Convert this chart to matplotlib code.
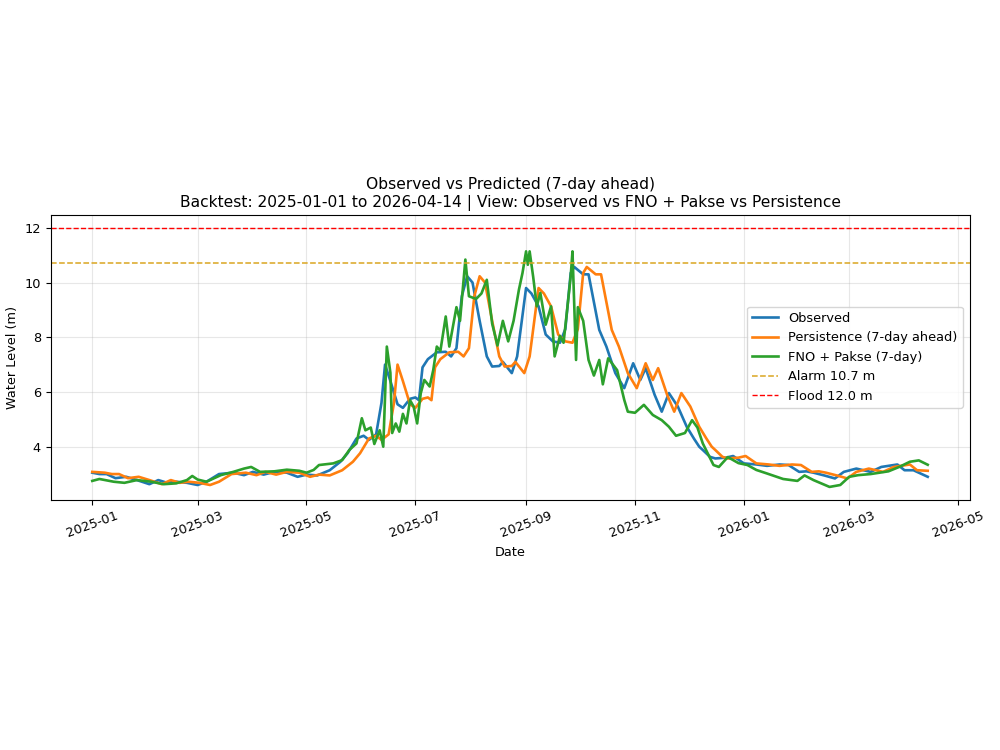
import numpy as np
import pandas as pd
from matplotlib import pyplot as plt

# backtest window, values (days since 2025-01-01, metres)
start_date = "2025-01-01"
end_date = "2026-04-14"

obs_day = [0, 4, 8, 13, 19, 25, 32, 37, 42, 47,
           53, 59, 64, 71, 79, 85, 90, 96, 102, 109,
           115, 120, 126, 133, 139, 143, 148, 152, 155, 159,
           162, 164, 167, 171, 174, 178, 181, 183, 185, 188,
           193, 198, 201, 204, 207, 210, 213, 217, 221, 224,
           228, 230, 235, 238, 241, 243, 246, 250, 254, 258,
           262, 265, 268, 270, 275, 278, 284, 288, 293, 298,
           303, 307, 310, 315, 319, 323, 328, 333, 337, 340,
           342, 346, 349, 355, 359, 365, 372, 378, 385, 390,
           396, 400, 404, 410, 416, 421, 428, 436, 442, 451,
           455, 460, 468]
obs_level = [3.05, 3.0, 3.0, 2.85, 2.9, 2.78, 2.63, 2.78, 2.68, 2.72,
             2.68, 2.6, 2.72, 3.0, 3.05, 2.96, 3.08, 2.98, 3.08, 3.05,
             2.9, 2.98, 2.95, 3.14, 3.45, 3.76, 4.3, 4.4, 4.25, 4.45,
             5.6, 7.0, 6.4, 5.55, 5.42, 5.75, 5.8, 5.7, 6.9, 7.2,
             7.45, 7.47, 7.3, 7.6, 9.5, 10.23, 10.0, 8.6, 7.3, 6.93,
             6.95, 7.1, 6.69, 7.3, 8.8, 9.8, 9.6, 9.13, 8.1, 7.85,
             7.8, 8.3, 10.35, 10.57, 10.3, 10.3, 8.27, 7.66, 6.69, 6.14,
             7.05, 6.44, 6.87, 5.9, 5.28, 5.96, 5.47, 4.73, 4.3, 4.0,
             3.88, 3.63, 3.57, 3.6, 3.66, 3.39, 3.35, 3.3, 3.35, 3.33,
             3.08, 3.1, 3.05, 2.95, 2.84, 3.08, 3.2, 3.08, 3.26, 3.35,
             3.14, 3.14, 2.9]

persist_day = [0, 7, 11, 15, 20, 26, 32, 39, 44, 49, 54,
               60, 66, 71, 78, 86, 92, 97, 103, 109, 116,
               122, 127, 133, 140, 146, 150, 155, 159, 162, 166,
               169, 171, 174, 178, 181, 185, 188, 190, 192, 195,
               200, 205, 208, 211, 214, 217, 220, 224, 228, 231,
               235, 237, 242, 245, 248, 250, 253, 257, 261, 265,
               269, 272, 275, 277, 282, 285, 291, 295, 300, 305,
               310, 314, 317, 322, 326, 330, 335, 340, 344, 347,
               349, 353, 356, 362, 366, 372, 379, 385, 392, 397,
               403, 407, 411, 417, 423, 428, 435, 443, 449, 458,
               462, 468]
persist_level = [3.08, 3.05, 3.0, 3.0, 2.85, 2.9, 2.78, 2.63, 2.78, 2.68, 2.72,
                 2.68, 2.6, 2.72, 3.0, 3.05, 2.96, 3.08, 2.98, 3.08, 3.05,
                 2.9, 2.98, 2.95, 3.14, 3.45, 3.76, 4.3, 4.4, 4.25, 4.45,
                 5.6, 7.0, 6.4, 5.55, 5.42, 5.75, 5.8, 5.7, 6.9, 7.2,
                 7.45, 7.47, 7.3, 7.6, 9.5, 10.23, 10.0, 8.6, 7.3, 6.93,
                 6.95, 7.1, 6.69, 7.3, 8.8, 9.8, 9.6, 9.13, 8.1, 7.85,
                 7.8, 8.3, 10.35, 10.57, 10.3, 10.3, 8.27, 7.66, 6.69, 6.14,
                 7.05, 6.44, 6.87, 5.9, 5.28, 5.96, 5.47, 4.73, 4.3, 4.0,
                 3.88, 3.63, 3.57, 3.6, 3.66, 3.39, 3.35, 3.3, 3.35, 3.33,
                 3.08, 3.1, 3.05, 2.95, 2.84, 3.08, 3.2, 3.08, 3.26, 3.35,
                 3.14, 3.12]

fno_day = [0, 4, 12, 18, 25, 33, 40, 47, 53, 56,
           59, 64, 72, 79, 85, 89, 94, 102, 109, 116,
           120, 124, 127, 135, 140, 144, 148, 151, 153, 156,
           158, 161, 163, 165, 167, 168, 170, 172, 174, 176,
           178, 180, 182, 184, 186, 189, 191, 193, 195, 198,
           200, 204, 206, 209, 211, 215, 218, 221, 224, 227,
           230, 233, 236, 239, 241, 243, 244, 245, 247, 249,
           251, 254, 257, 259, 262, 264, 266, 268, 269, 271,
           272, 275, 278, 281, 284, 286, 289, 294, 298, 300,
           304, 309, 314, 319, 323, 327, 332, 336, 339, 342,
           348, 351, 356, 362, 367, 372, 378, 387, 395, 399,
           404, 413, 419, 424, 429, 436, 446, 452, 458, 463,
           468]
fno_level = [2.75, 2.82, 2.72, 2.68, 2.78, 2.72, 2.63, 2.66, 2.78, 2.93,
             2.8, 2.72, 2.96, 3.08, 3.2, 3.26, 3.08, 3.1, 3.16, 3.12,
             3.05, 3.15, 3.33, 3.39, 3.51, 3.88, 4.12, 5.04, 4.6, 4.7,
             4.1, 4.6, 4.0, 7.66, 6.7, 4.5, 4.85, 4.55, 5.2, 4.85,
             5.7, 5.47, 4.85, 5.95, 6.44, 6.2, 6.8, 7.66, 7.5, 8.76,
             7.66, 9.1, 8.6, 10.84, 9.5, 9.4, 9.6, 10.1, 8.5, 7.7,
             8.6, 7.85, 8.6, 9.74, 10.35, 11.14, 10.65, 11.14, 10.2, 9.13,
             9.62, 8.46, 9.13, 7.3, 8.05, 7.8, 9.0, 10.23, 11.14, 7.17,
             9.1, 8.6, 7.17, 6.6, 7.17, 6.28, 7.23, 6.8, 5.71, 5.28,
             5.24, 5.53, 5.16, 4.97, 4.73, 4.4, 4.5, 4.97, 4.7, 4.12,
             3.33, 3.26, 3.62, 3.4, 3.33, 3.15, 3.02, 2.82, 2.75, 2.95,
             2.78, 2.53, 2.6, 2.9, 2.96, 3.0, 3.1, 3.26, 3.45, 3.5,
             3.34]

alarm_level = 10.7
flood_level = 12.0


def to_dates(days):
    return pd.Timestamp(start_date) + pd.to_timedelta(days, unit="D")


fig = plt.figure(figsize=(10, 7.5), dpi=100)
ax = fig.add_axes([0.0505, 0.3335, 0.919, 0.380])

ax.plot(to_dates(obs_day), obs_level, lw=1.9, color="tab:blue", label="Observed")
ax.plot(to_dates(persist_day), persist_level, lw=1.9, color="tab:orange",
        label="Persistence (7-day ahead)")
ax.plot(to_dates(fno_day), fno_level, lw=1.9, color="tab:green", label="FNO + Pakse (7-day)")
ax.axhline(alarm_level, ls="--", lw=1.1, color="goldenrod", label=f"Alarm {alarm_level} m")
ax.axhline(flood_level, ls="--", lw=1.0, color="red", label=f"Flood {flood_level} m")

ax.set_title(f"Observed vs Predicted (7-day ahead)\n"
             f"Backtest: {start_date} to {end_date} | View: Observed vs FNO + Pakse vs Persistence",
             fontsize=11.2)
ax.set_xlabel("Date", fontsize=9.3)
ax.set_ylabel("Water Level (m)", fontsize=9.3)
ax.tick_params(labelsize=9.3)
plt.setp(ax.get_xticklabels(), rotation=20)
ax.grid(True, alpha=0.3)
ax.legend(loc="center right", fontsize=9.3)

fig.savefig("out.png", dpi=100)
